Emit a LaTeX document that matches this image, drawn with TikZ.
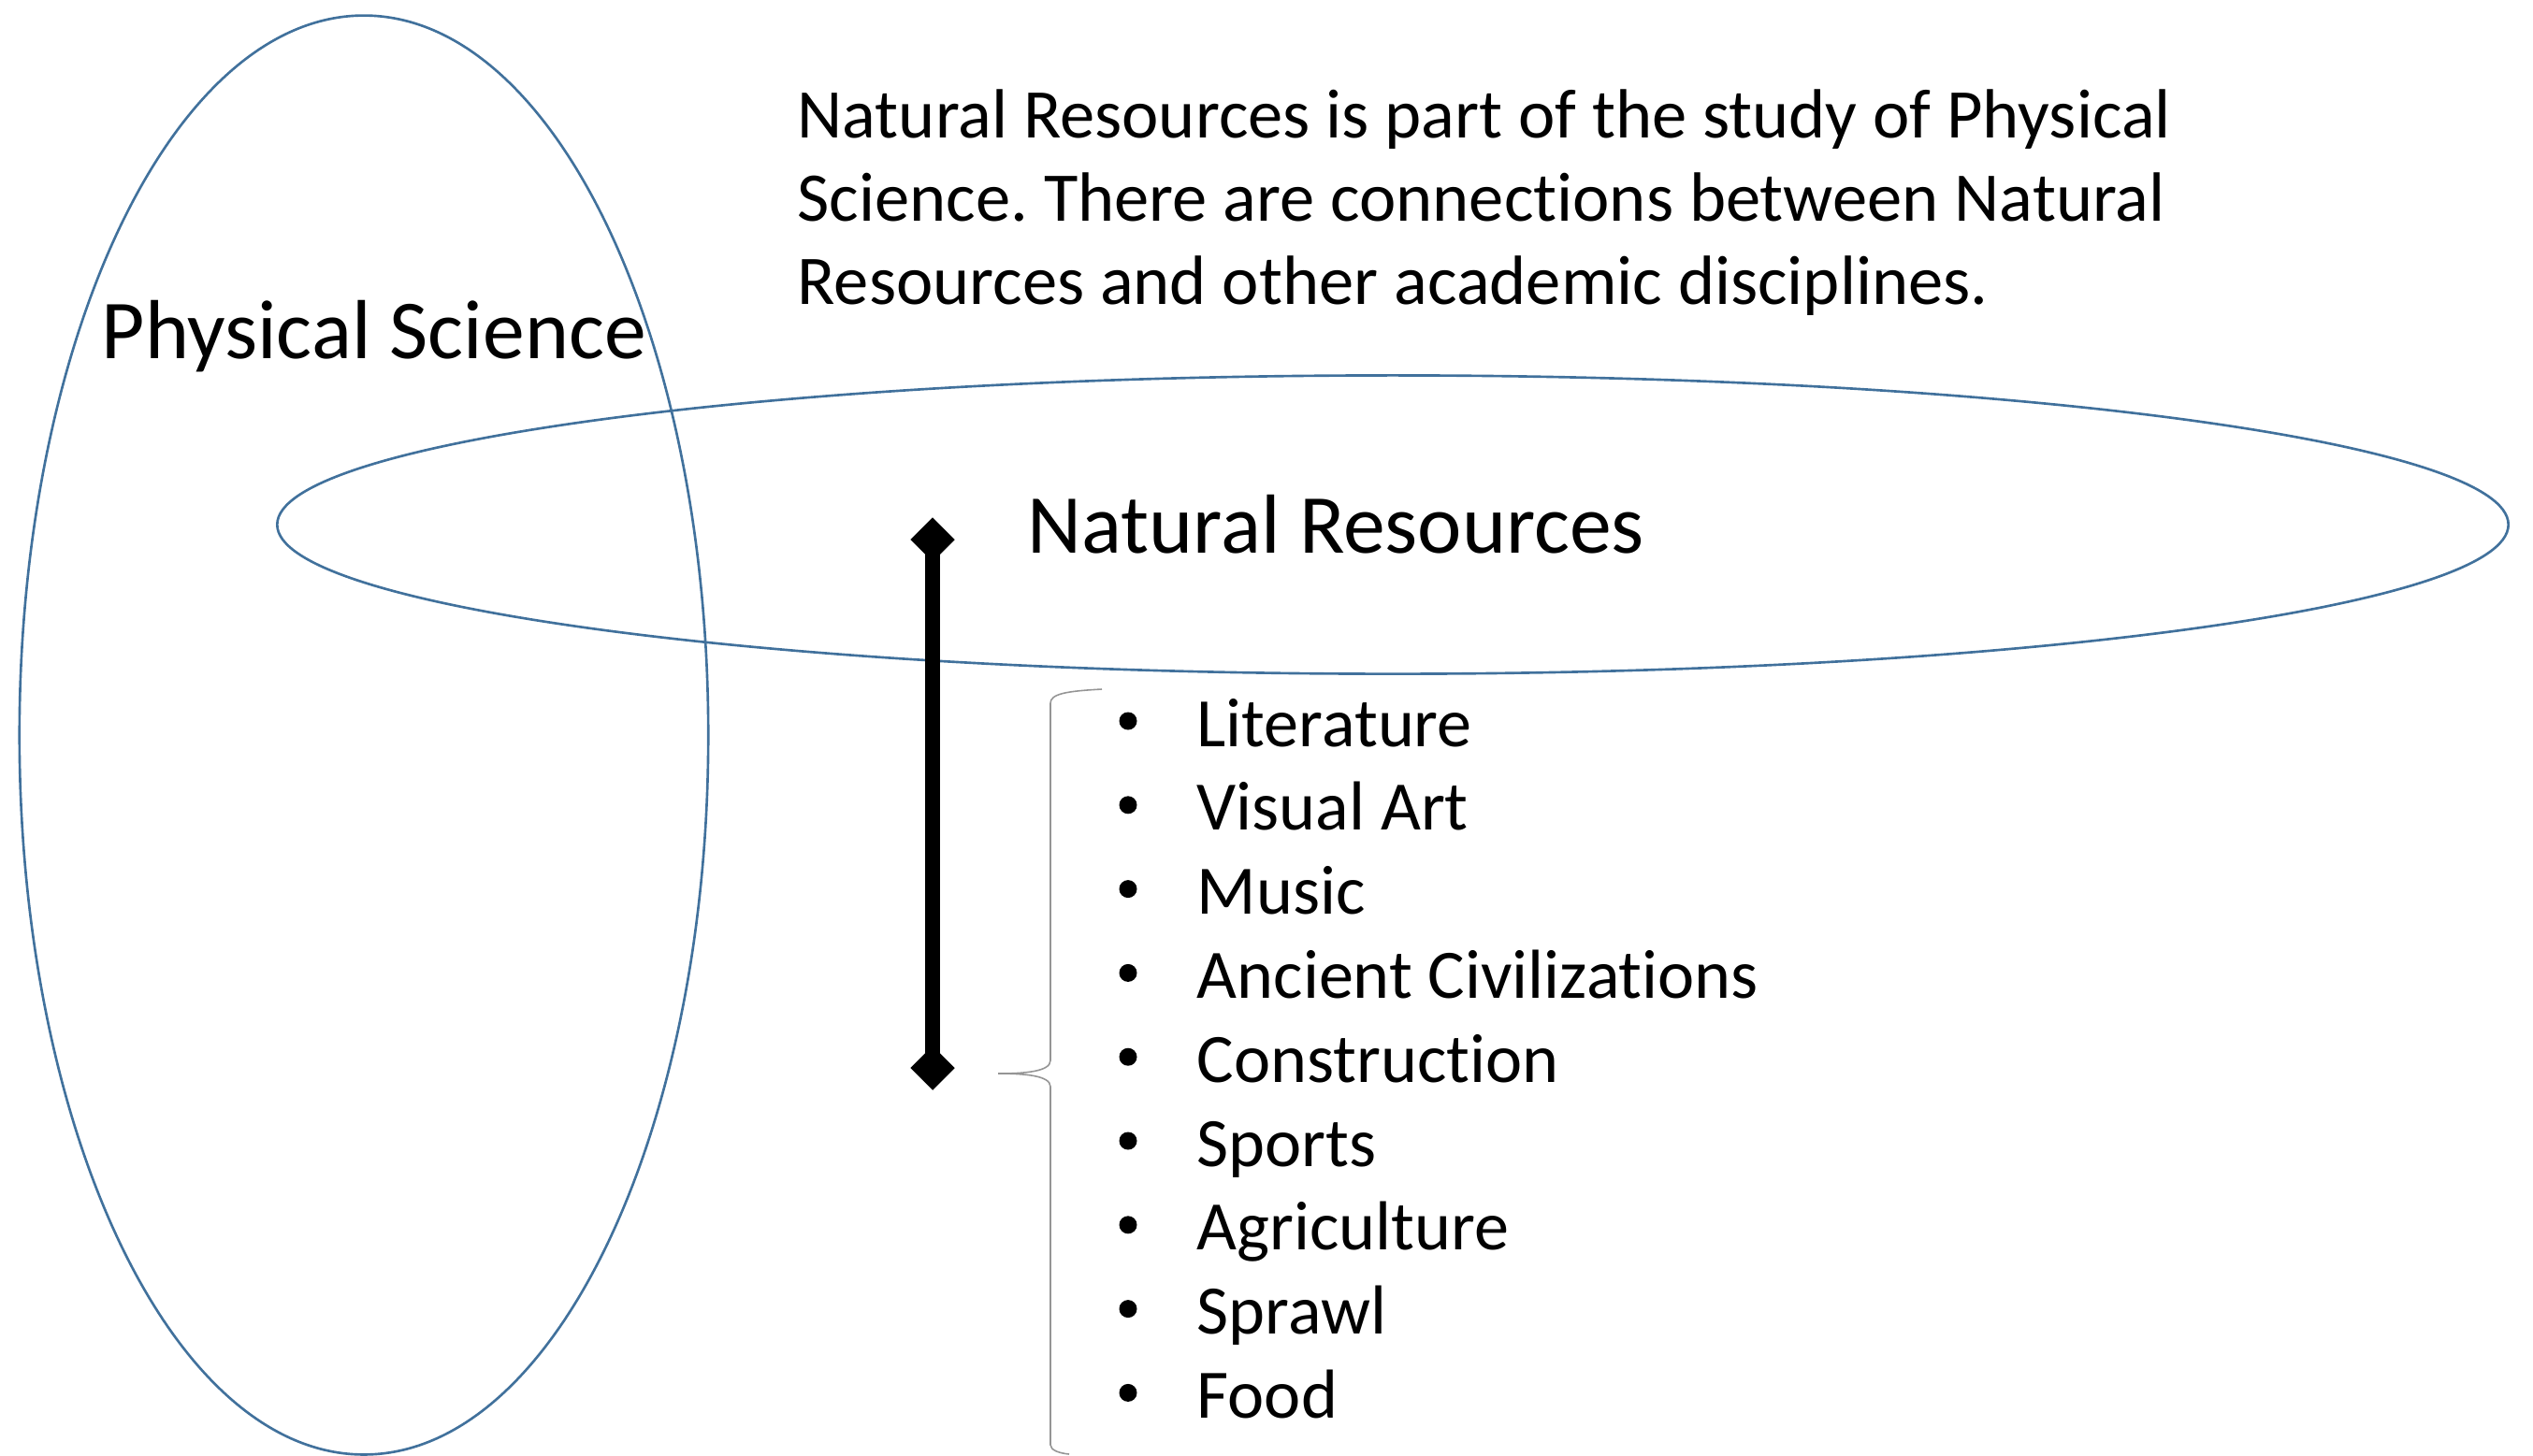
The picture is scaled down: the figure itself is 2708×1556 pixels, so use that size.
\documentclass[tikz,border=0pt]{standalone}
\usepackage{fontspec}
\setmainfont{Carlito}[Ligatures=NoCommon]
\usetikzlibrary{shapes.geometric}
\definecolor{ellblue}{HTML}{41719C}
\definecolor{bracegray}{HTML}{959595}
\frenchspacing
\newcommand{\nolig}{\kern0pt }
\begin{document}
\begin{tikzpicture}[x=0.01cm,y=-0.01cm,
  oval/.style={draw=ellblue,line width=0.75pt,ellipse,inner sep=0pt},
  title/.style={anchor=base west,inner sep=0pt,font=\fontsize{25.5}{30}\selectfont},
  para/.style={anchor=base west,inner sep=0pt,font=\fontsize{21.2}{25.4}\selectfont},
  itemtext/.style={anchor=base west,inner sep=0pt,font=\fontsize{21.1}{25.4}\selectfont},
  tip/.style={diamond,fill=black,inner sep=0pt,minimum width=0.48cm,minimum height=0.48cm},
  shaft/.style={line width=4.6pt,black},
  bracestyle/.style={draw=bracegray,line width=0.45pt}]
\useasboundingbox (0,0) rectangle (2708,1556);
% ellipses
\node[oval,minimum width=7.36cm,minimum height=15.38cm] (phys) at (389,786) {};
\node[oval,minimum width=23.84cm,minimum height=3.19cm] (nat) at (1489,561) {};
% labels
\node[title] (physlbl) at (108,383) {Physical Science};
\node[title] (natlbl) at (1098,591) {Natural Resources};
\node[para] (p1) at (852,147) {Natural Resources is part of the study of Physical};
\node[para] (p2) at (852,236) {Science. There are connections between Natural};
\node[para] (p3) at (852,325) {Resources and other academic disciplines.};
% arrow
\node[tip] (dtop) at (997,577) {};
\node[tip] (dbot) at (997,1142) {};
\draw[shaft] (dtop.center) -- (dbot.center);
% brace
\coordinate (btop) at (1178,737);
\coordinate (bmid) at (1067,1148);
\coordinate (bbot) at (1143,1555);
\draw[bracestyle] (btop) .. controls (1140,739) and (1123,742) .. (1123,752)
  -- (1123,1134) .. controls (1123,1146) and (1095,1148) .. (bmid)
  .. controls (1095,1148) and (1123,1150) .. (1123,1162)
  -- (1123,1545) .. controls (1123,1551) and (1133,1554) .. (bbot);
% list
\foreach \t [count=\i from 0] in {Literature,Visual Art,Music,Ancient Civiliza{t\nolig i}ons,Construc{t\nolig i}on,Sports,Agriculture,Sprawl,Food}{
  \node[itemtext] (item\i) at (1279,798+89.8*\i) {\t};
  \fill (1206,771+89.8*\i) circle[radius=2.7pt];
}
\end{tikzpicture}
\end{document}
